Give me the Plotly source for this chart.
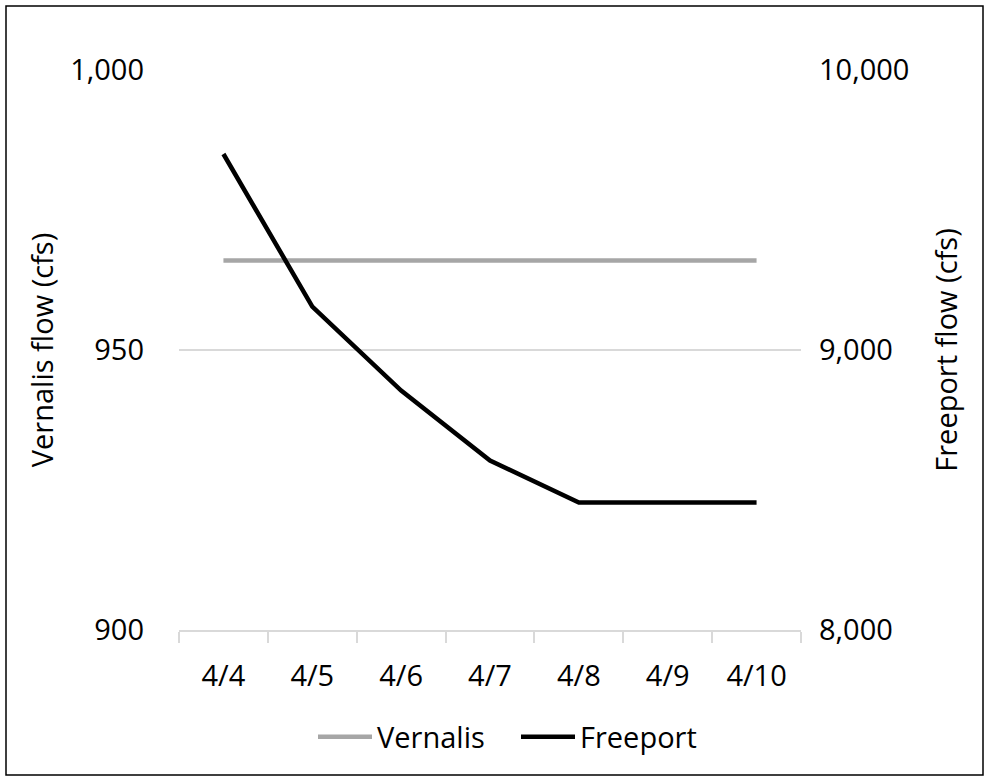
import plotly.graph_objects as go

dates = ["4/4", "4/5", "4/6", "4/7", "4/8", "4/9", "4/10"]
vernalis = [966, 966, 966, 966, 966, 966, 966]
freeport = [9700, 9155, 8855, 8605, 8455, 8455, 8455]
left_ticks = [900, 950, 1000]
right_ticks = [8000, 9000, 10000]

W, H = 990, 781
L, R, T, B = 179, 189, 70, 151
pw, ph = W - L - R, H - T - B

font = "Open Sans, Noto Sans, sans-serif"
FS = 29

fig = go.Figure()
fig.add_trace(go.Scatter(x=dates, y=vernalis, name="Vernalis", mode="lines",
                         line=dict(color="#A6A6A6", width=4.5)))
fig.add_trace(go.Scatter(x=dates, y=freeport, name="Freeport", mode="lines",
                         line=dict(color="#000000", width=4.5), yaxis="y2"))

fig.update_layout(
    width=W, height=H,
    margin=dict(l=L, r=R, t=T, b=B),
    paper_bgcolor="white", plot_bgcolor="white",
    font=dict(family=font, size=FS, color="#000000"),
    showlegend=True,
    legend=dict(orientation="h", x=(313 - L) / pw, xanchor="left", y=-(737 - T - ph) / ph, yanchor="middle",
                font=dict(size=FS), tracegroupgap=0, itemwidth=54, entrywidth=134),
    xaxis=dict(type="category", range=[-0.5, 6.5], showgrid=False,
               showline=True, linecolor="#D9D9D9", linewidth=1.5,
               ticks="outside", tickson="boundaries", ticklen=11, tickcolor="#D9D9D9",
               tickwidth=1.5, tickfont=dict(size=FS), zeroline=False,
               ticklabelstandoff=19),
    yaxis=dict(range=[900, 1000], tickvals=left_ticks, tickformat=",",
               showgrid=True, gridcolor="#D9D9D9", gridwidth=1.5,
               zeroline=False, showline=False, ticks="",
               ticklabelstandoff=34,
               title=dict(text="Vernalis flow (cfs)", font=dict(size=FS), standoff=8),
               tickfont=dict(size=FS)),
    yaxis2=dict(range=[8000, 10000], tickvals=right_ticks, tickformat=",",
                overlaying="y", side="right", showgrid=False, zeroline=False,
                ticks="", ticklabelstandoff=17,
                title=dict(text="Freeport flow (cfs)", font=dict(size=FS), standoff=28),
                tickfont=dict(size=FS)),
    shapes=[dict(type="rect", xref="paper", yref="paper",
                 x0=(6 - L) / pw, x1=(983 - L) / pw,
                 y0=-(775 - T - ph) / ph, y1=(T + ph - 6) / ph,
                 line=dict(color="black", width=1.5), fillcolor="rgba(0,0,0,0)", layer="below")],
)

fig.write_html("out.html", config={"displayModeBar": False},
               post_script="document.body.style.margin='0';document.body.style.overflow='hidden';")
